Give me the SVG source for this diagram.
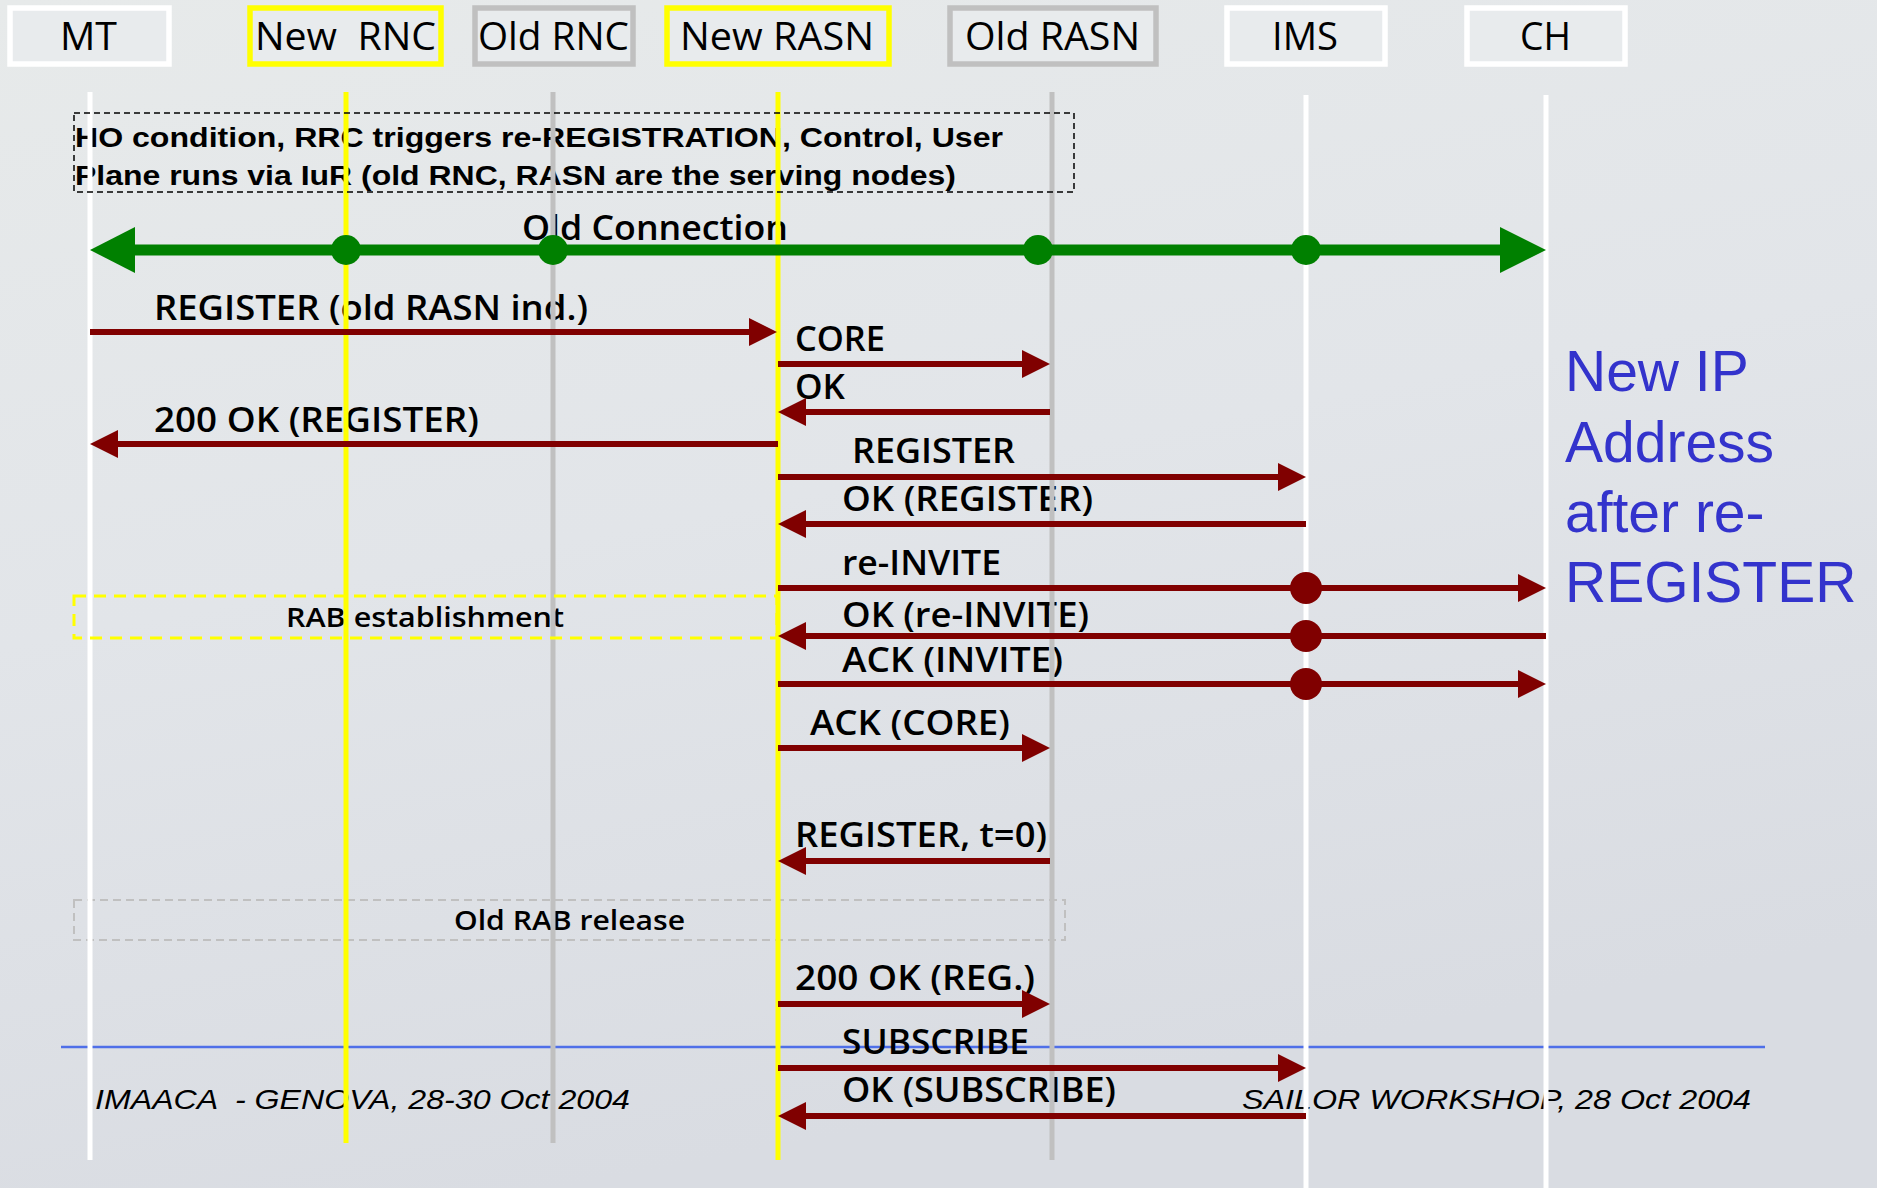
<svg xmlns="http://www.w3.org/2000/svg" width="1877" height="1188" viewBox="0 0 1877 1188">
<defs>
<linearGradient id="bg" x1="0" y1="0" x2="0.3" y2="1">
<stop offset="0" stop-color="#e7eaea"/>
<stop offset="0.5" stop-color="#e2e5e9"/>
<stop offset="1" stop-color="#d9dce2"/>
</linearGradient>
<marker id="ah" markerUnits="userSpaceOnUse" markerWidth="28" markerHeight="28" refX="8" refY="14" orient="auto">
<path d="M0,0 L28,14 L0,28 Z" fill="#800000"/>
</marker>
<style>
.hdr{font-family:"Open Sans","DejaVu Sans",sans-serif;font-size:39px;fill:#000}
.box{fill:#e8ebed;stroke-width:5.5}
.lbl{font-family:"Open Sans","DejaVu Sans",sans-serif;font-weight:600;font-size:35px;fill:#000}
.sm{font-family:"Open Sans","DejaVu Sans",sans-serif;font-weight:600;font-size:27px;fill:#000}
.note{font-family:"Liberation Sans",Arial,sans-serif;font-weight:bold;font-size:27px;fill:#000}
.foot{font-family:"Liberation Sans",Arial,sans-serif;font-style:italic;font-size:28px;fill:#000}
.blue{font-family:"Liberation Sans",Arial,sans-serif;font-size:57px;fill:#3333cc}
.life{stroke-width:5;fill:none}
.msg{stroke:#800000;stroke-width:6;fill:none;marker-end:url(#ah)}
.msgn{stroke:#800000;stroke-width:6;fill:none}
.y{stroke:#ffff00}.g{stroke:#c0c0c0}.w{stroke:#ffffff}
</style>
</defs>
<rect x="0" y="0" width="1877" height="1188" fill="url(#bg)"/>
<line x1="61" y1="1047" x2="1765" y2="1047" stroke="#4f6fe8" stroke-width="2.5"/>

<g id="texts">
<text class="note" x="75" y="147" textLength="928" lengthAdjust="spacingAndGlyphs">HO condition, RRC triggers re-REGISTRATION, Control, User</text>
<text class="note" x="75" y="185" textLength="881" lengthAdjust="spacingAndGlyphs">Plane runs via IuR (old RNC, RASN are the serving nodes)</text>
<text class="lbl" x="522" y="240" textLength="266" lengthAdjust="spacingAndGlyphs">Old Connection</text>
<text class="lbl" x="154" y="320" textLength="434" lengthAdjust="spacingAndGlyphs">REGISTER (old RASN ind.)</text>
<text class="lbl" x="795" y="351" textLength="90" lengthAdjust="spacingAndGlyphs">CORE</text>
<text class="lbl" x="795" y="399" textLength="50" lengthAdjust="spacingAndGlyphs">OK</text>
<text class="lbl" x="154" y="432" textLength="325" lengthAdjust="spacingAndGlyphs">200 OK (REGISTER)</text>
<text class="lbl" x="852" y="463" textLength="163" lengthAdjust="spacingAndGlyphs">REGISTER</text>
<text class="lbl" x="842" y="511" textLength="251" lengthAdjust="spacingAndGlyphs">OK (REGISTER)</text>
<text class="lbl" x="842" y="575" textLength="159" lengthAdjust="spacingAndGlyphs">re-INVITE</text>
<text class="lbl" x="842" y="627" textLength="247" lengthAdjust="spacingAndGlyphs">OK (re-INVITE)</text>
<text class="lbl" x="842" y="672" textLength="221" lengthAdjust="spacingAndGlyphs">ACK (INVITE)</text>
<text class="lbl" x="810" y="735" textLength="200" lengthAdjust="spacingAndGlyphs">ACK (CORE)</text>
<text class="lbl" x="795" y="847" textLength="252" lengthAdjust="spacingAndGlyphs">REGISTER, t=0)</text>
<text class="lbl" x="795" y="990" textLength="240" lengthAdjust="spacingAndGlyphs">200 OK (REG.)</text>
<text class="lbl" x="842" y="1054" textLength="187" lengthAdjust="spacingAndGlyphs">SUBSCRIBE</text>
<text class="lbl" x="842" y="1102" textLength="274" lengthAdjust="spacingAndGlyphs">OK (SUBSCRIBE)</text>
<text class="sm" x="286" y="627" textLength="278" lengthAdjust="spacingAndGlyphs">RAB establishment</text>
<text class="sm" x="454" y="930" textLength="231" lengthAdjust="spacingAndGlyphs">Old RAB release</text>
<text class="foot" x="95" y="1109" textLength="535" lengthAdjust="spacingAndGlyphs" xml:space="preserve">IMAACA  - GENOVA, 28-30 Oct 2004</text>
<text class="foot" x="1242" y="1109" textLength="509" lengthAdjust="spacingAndGlyphs">SAILOR WORKSHOP, 28 Oct 2004</text>
<text class="blue" x="1565" y="391">New IP</text>
<text class="blue" x="1565" y="462">Address</text>
<text class="blue" x="1565" y="532">after re-</text>
<text class="blue" x="1565" y="602">REGISTER</text>
</g>

<rect x="74" y="900" width="991" height="40" fill="none" stroke="#c0c0c0" stroke-width="2" stroke-dasharray="8 5"/>

<g id="node-mt">
<line class="life w" x1="90" y1="92" x2="90" y2="1160"/>
<rect class="box" x="10" y="8" width="159" height="56" stroke="#ffffff"/>
<text class="hdr" x="60" y="50" textLength="57" lengthAdjust="spacingAndGlyphs">MT</text>
</g>
<g id="node-new-rnc">
<line class="life y" x1="346" y1="92" x2="346" y2="1143"/>
<rect class="box" x="250" y="8" width="191" height="56" stroke="#ffff00"/>
<text class="hdr" x="255" y="50" textLength="181" lengthAdjust="spacingAndGlyphs" xml:space="preserve">New  RNC</text>
</g>
<g id="node-old-rnc">
<line class="life g" x1="553" y1="92" x2="553" y2="1143"/>
<rect class="box" x="475" y="8" width="158" height="56" stroke="#c0c0c0"/>
<text class="hdr" x="478" y="50" textLength="151" lengthAdjust="spacingAndGlyphs">Old RNC</text>
</g>
<g id="node-new-rasn">
<line class="life y" x1="778" y1="92" x2="778" y2="1160"/>
<rect class="box" x="667" y="8" width="222" height="56" stroke="#ffff00"/>
<text class="hdr" x="680" y="50" textLength="194" lengthAdjust="spacingAndGlyphs">New RASN</text>
</g>
<g id="node-old-rasn">
<line class="life g" x1="1052" y1="92" x2="1052" y2="1160"/>
<rect class="box" x="950" y="8" width="206" height="56" stroke="#c0c0c0"/>
<text class="hdr" x="965" y="50" textLength="175" lengthAdjust="spacingAndGlyphs">Old RASN</text>
</g>
<g id="node-ims">
<line class="life w" x1="1306" y1="95" x2="1306" y2="1188"/>
<rect class="box" x="1227" y="8" width="158" height="56" stroke="#ffffff"/>
<text class="hdr" x="1272" y="50" textLength="66" lengthAdjust="spacingAndGlyphs">IMS</text>
</g>
<g id="node-ch">
<line class="life w" x1="1546" y1="95" x2="1546" y2="1188"/>
<rect class="box" x="1467" y="8" width="158" height="56" stroke="#ffffff"/>
<text class="hdr" x="1520" y="50" textLength="51" lengthAdjust="spacingAndGlyphs">CH</text>
</g>

<rect x="74" y="113" width="1000" height="79" fill="none" stroke="#000" stroke-width="1.5" stroke-dasharray="6 4"/>
<rect x="74" y="596" width="703" height="42" fill="none" stroke="#ffff00" stroke-width="3" stroke-dasharray="12 8"/>

<g id="connectors">
<line x1="128" y1="250" x2="1505" y2="250" stroke="#008000" stroke-width="11"/>
<polygon points="90,250 135,227 135,273" fill="#008000"/>
<polygon points="1546,250 1500,227 1500,273" fill="#008000"/>
<circle cx="346" cy="250" r="15" fill="#008000"/>
<circle cx="553" cy="250" r="15" fill="#008000"/>
<circle cx="1038" cy="250" r="15" fill="#008000"/>
<circle cx="1306" cy="250" r="15" fill="#008000"/>
<path class="msg" d="M90,332 H757"/>
<path class="msg" d="M778,364 H1030"/>
<path class="msg" d="M1050,412 H798"/>
<path class="msg" d="M778,444 H110"/>
<path class="msg" d="M778,477 H1286"/>
<path class="msg" d="M1306,524 H798"/>
<path class="msg" d="M778,588 H1526"/>
<path class="msg" d="M1546,636 H798"/>
<path class="msg" d="M778,684 H1526"/>
<circle cx="1306" cy="588" r="16" fill="#800000"/>
<circle cx="1306" cy="636" r="16" fill="#800000"/>
<circle cx="1306" cy="684" r="16" fill="#800000"/>
<path class="msg" d="M778,748 H1030"/>
<path class="msg" d="M1050,861 H798"/>
<path class="msg" d="M778,1004 H1030"/>
<path class="msg" d="M778,1068 H1286"/>
<path class="msg" d="M1306,1116 H798"/>
</g>
</svg>
